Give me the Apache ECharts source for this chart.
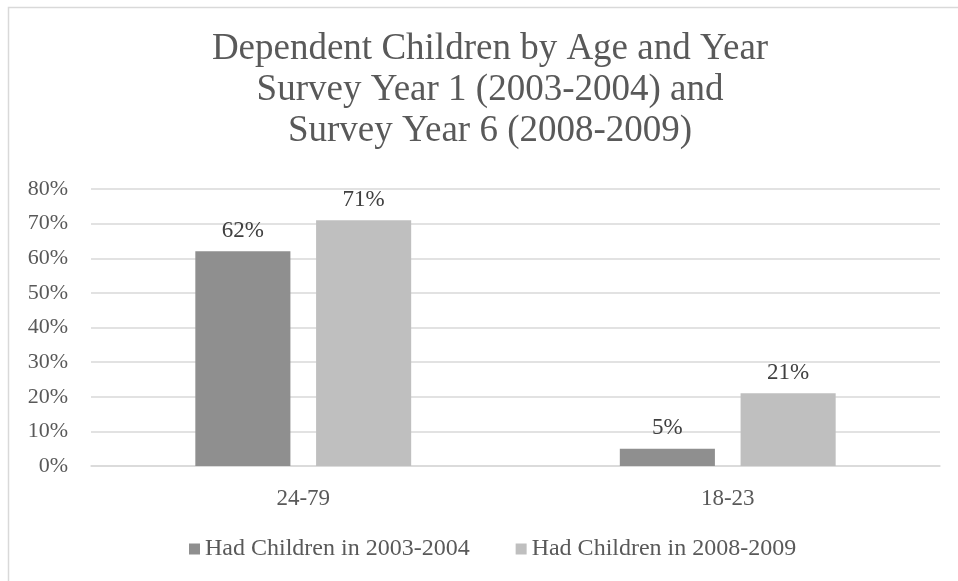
<!DOCTYPE html>
<html>
<head>
<meta charset="utf-8">
<script src="https://cdn.jsdelivr.net/npm/echarts@6/dist/echarts.min.js"></script>
<style>
  html, body { margin: 0; padding: 0; background: #ffffff; }
  #chart { width: 958px; height: 581px; }
</style>
</head>
<body>
<div id="chart"></div>
<script>
// Age groups and share of respondents with dependent children (percent)
const categories = ['24-79', '18-23'];
const seriesNames = ['Had Children in 2003-2004', 'Had Children in 2008-2009'];
const values2003 = [62, 5];
const values2008 = [71, 21];
const titleLines = [
  'Dependent Children by Age and Year',
  'Survey Year 1 (2003-2004) and',
  'Survey Year 6 (2008-2009)'
];

const serif = '"Liberation Serif", "DejaVu Serif", serif';
const textGrey = '#595959';

const chart = echarts.init(document.getElementById('chart'), null, { renderer: 'canvas' });

const labelStyle = {
  show: true,
  position: 'top',
  distance: 9,
  fontFamily: serif,
  fontSize: 23,
  color: '#404040',
  formatter: p => p.value + '%'
};

chart.setOption({
  backgroundColor: '#ffffff',
  animation: false,
  graphic: [{
    type: 'rect',
    shape: { x: 8.5, y: 7.5, width: 1000, height: 700 },
    style: { fill: 'none', stroke: '#d9d9d9', lineWidth: 1.5 },
    silent: true
  }],
  title: {
    text: titleLines.join('\n'),
    left: 485,
    textAlign: 'center',
    top: 24,
    textStyle: {
      fontFamily: serif,
      fontSize: 37,
      fontWeight: 'normal',
      color: textGrey,
      lineHeight: 41
    }
  },
  grid: { left: 91, right: 18, top: 189, bottom: 115, containLabel: false },
  legend: {
    bottom: 15,
    left: 184,
    itemWidth: 11,
    itemHeight: 11,
    itemGap: 46,
    icon: 'rect',
    textStyle: { fontFamily: serif, fontSize: 24, color: textGrey },
    data: seriesNames
  },
  xAxis: {
    type: 'category',
    data: categories,
    axisLine: { show: true, lineStyle: { color: '#d9d9d9', width: 1.5 } },
    axisTick: { show: false },
    axisLabel: { fontFamily: serif, fontSize: 23, color: textGrey, margin: 21 }
  },
  yAxis: {
    type: 'value',
    min: 0,
    max: 80,
    interval: 10,
    axisLine: { show: false },
    axisTick: { show: false },
    splitLine: { lineStyle: { color: '#d9d9d9', width: 1.5 } },
    axisLabel: {
      fontFamily: serif, fontSize: 22, color: textGrey, margin: 23,
      formatter: v => v + '%'
    }
  },
  series: [
    {
      name: seriesNames[0],
      type: 'bar',
      data: values2003,
      barWidth: '22.4%',
      barGap: '27%',
      itemStyle: { color: '#8f8f8f' },
      label: labelStyle
    },
    {
      name: seriesNames[1],
      type: 'bar',
      data: values2008,
      barWidth: '22.4%',
      itemStyle: { color: '#bfbfbf' },
      label: labelStyle
    }
  ]
});
</script>
</body>
</html>
